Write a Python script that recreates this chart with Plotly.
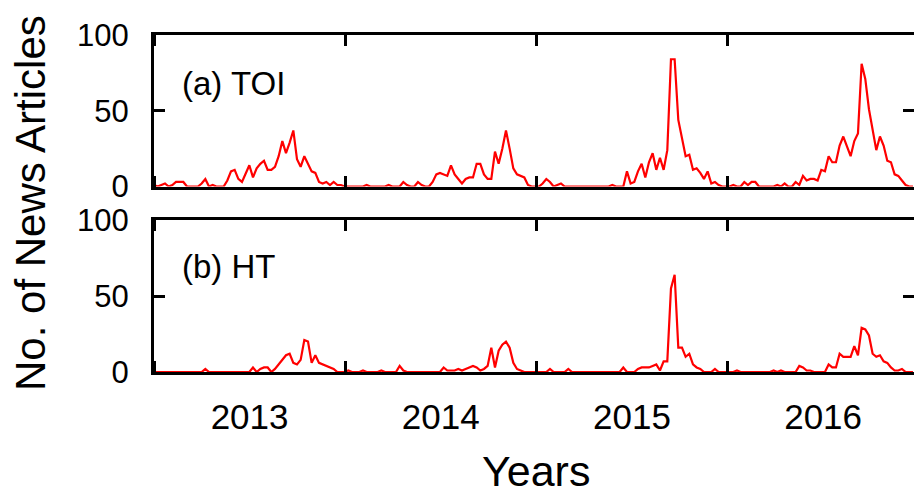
import pandas as pd
import plotly.graph_objects as go

# Weekly counts of news articles
toi_2013 = [1,0,1,2,0,1,3,3,3,0, 0,0,0,2,5,0,1,0,0,0, 4,10,11,5,3,9,14,6,12,15,
            17,11,11,13,20,30,22,29,37,18, 13,20,15,10,9,3,2,3,1,3, 1,1]
toi_2014 = [0,0,0,0,0,0,1,0,0,0, 0,0,1,0,0,0,3,1,0,0, 3,1,0,0,3,8,9,8,7,14,
            8,5,2,5,6,6,15,15,8,5, 5,23,15,25,37,25,12,8,7,6, 1,0]
toi_2015 = [0,0,2,5,3,0,1,2,0,0, 0,0,0,0,0,0,0,0,0,0, 0,1,0,0,0,10,2,3,10,15,
            6,16,22,11,19,11,24,84,84,44, 31,20,21,11,12,9,5,10,2,3, 1,0]
toi_2016 = [0,0,1,0,0,3,1,3,3,0, 0,0,0,0,1,0,2,0,0,3, 1,7,4,5,5,4,11,10,20,16,
            16,27,33,26,20,30,35,81,71,51, 36,24,33,27,17,16,8,7,4,1, 0,0]

ht_2013 = [0,0,0,0,0,0,0,0,0,0, 0,0,0,0,2,0,0,0,0,0, 0,0,0,0,0,0,0,3,0,2,
           3,3,0,2,5,8,11,12,6,5, 8,21,20,6,11,6,5,4,3,2, 0,0]
ht_2014 = [0,1,0,0,0,1,0,0,0,0, 1,0,0,0,0,4,1,0,0,0, 0,0,0,0,0,0,0,3,1,1,
           1,2,1,2,3,4,3,1,2,4, 16,3,14,18,20,16,6,2,1,0, 0,0]
ht_2015 = [0,0,0,0,2,0,0,0,0,2, 0,0,0,0,0,0,0,0,0,0, 0,0,0,0,3,0,0,0,2,3,
           3,3,4,5,1,7,7,55,64,16, 16,10,12,5,3,2,0,0,0,2, 0,0]
ht_2016 = [0,0,0,1,0,0,0,0,0,0, 0,0,0,1,0,1,0,0,0,0, 4,3,1,1,0,0,0,0,5,3,
           3,12,10,10,10,17,11,29,28,24, 12,10,11,7,6,3,1,1,2,0, 0,0]

toi = toi_2013 + toi_2014 + toi_2015 + toi_2016
ht = ht_2013 + ht_2014 + ht_2015 + ht_2016
weeks = pd.date_range("2013-01-01", periods=len(toi), freq="7D")

panel_labels = ["(a) TOI", "(b) HT"]
y_ticks = [0, 50, 100]
x_range = ["2013-01-01", "2016-12-22"]

FONT = "Liberation Sans, Arial, Helvetica, sans-serif"
RED = "#ff0000"

fig = go.Figure()
fig.add_trace(go.Scatter(x=weeks, y=toi, mode="lines", line=dict(color=RED, width=2.2),
                         xaxis="x", yaxis="y", showlegend=False))
fig.add_trace(go.Scatter(x=weeks, y=ht, mode="lines", line=dict(color=RED, width=2.2),
                         xaxis="x2", yaxis="y2", showlegend=False))
# invisible traces to carry the right-hand tick axes
fig.add_trace(go.Scatter(x=weeks, y=toi, mode="lines", line=dict(width=0), opacity=0,
                         xaxis="x", yaxis="y3", showlegend=False, hoverinfo="skip"))
fig.add_trace(go.Scatter(x=weeks, y=ht, mode="lines", line=dict(width=0), opacity=0,
                         xaxis="x2", yaxis="y4", showlegend=False, hoverinfo="skip"))

top_dom = [0.5504, 1.0]
bot_dom = [0.0, 0.451]

xcommon = dict(type="date", range=x_range, showline=True, linewidth=3, linecolor="black",
               mirror="ticks", ticks="inside", ticklen=11, tickwidth=3, tickcolor="black",
               dtick="M12", tick0="2013-01-01", tickformat="%Y", ticklabelmode="period",
               showgrid=False, zeroline=False,
               tickfont=dict(family=FONT, size=35, color="black"))
ycommon = dict(range=[0, 100], tickvals=y_ticks, showline=True, linewidth=3, linecolor="black",
               ticks="inside", ticklen=11, tickwidth=3, tickcolor="black",
               showgrid=False, zeroline=False, ticklabelstandoff=16,
               tickfont=dict(family=FONT, size=31, color="black"))
yright = dict(range=[0, 100], tickvals=y_ticks, showline=False, ticks="inside", ticklen=11,
              tickwidth=3, tickcolor="black", showticklabels=False, showgrid=False,
              zeroline=False, side="right")

fig.update_layout(
    width=914, height=494,
    margin=dict(l=154, r=0, t=35, b=122),
    paper_bgcolor="white", plot_bgcolor="white",
    xaxis=dict(**xcommon, anchor="y", domain=[0, 1], showticklabels=False),
    xaxis2=dict(**xcommon, anchor="y2", domain=[0, 1], showticklabels=True,
                ticklabelstandoff=12),
    yaxis=dict(**ycommon, anchor="x", domain=top_dom),
    yaxis2=dict(**ycommon, anchor="x2", domain=bot_dom),
    yaxis3=dict(**yright, anchor="x", overlaying="y"),
    yaxis4=dict(**yright, anchor="x2", overlaying="y2"),
)

fig.add_annotation(text="No. of News Articles", xref="paper", yref="paper",
                   x=(30 - 154) / 760, y=(372 - 203) / 337, textangle=-90,
                   showarrow=False, xanchor="center", yanchor="middle",
                   font=dict(family=FONT, size=42, color="black"))
fig.add_annotation(text="Years", xref="paper", yref="paper",
                   x=(536 - 154) / 760, y=(372 - 471) / 337, showarrow=False,
                   xanchor="center", yanchor="middle",
                   font=dict(family=FONT, size=43, color="black"))
for lab, py in zip(panel_labels, [83, 266]):
    fig.add_annotation(text=lab, xref="paper", yref="paper",
                       x=(180 - 154) / 760, y=(372 - py) / 337, showarrow=False,
                       xanchor="left", yanchor="middle",
                       font=dict(family=FONT, size=33, color="black"))

fig.write_html("out.html")
